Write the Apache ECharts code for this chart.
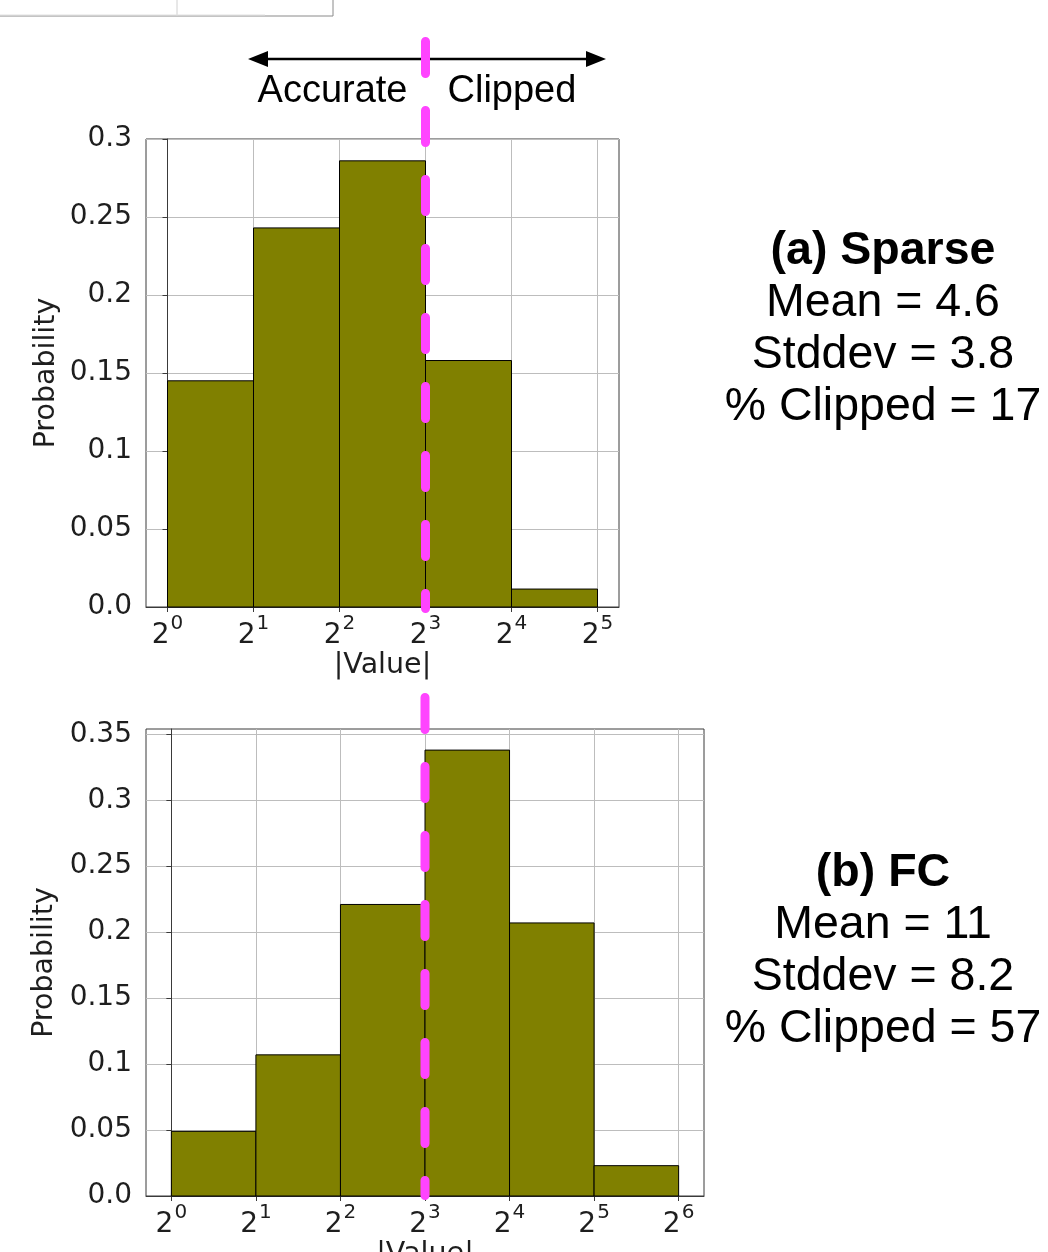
<!DOCTYPE html>
<html>
<head>
<meta charset="utf-8">
<script src="https://cdn.jsdelivr.net/npm/echarts@6/dist/echarts.min.js"></script>
<style>
  html, body { margin: 0; padding: 0; background: #ffffff; }
  #chart { width: 1048px; height: 1252px; }
</style>
</head>
<body>
<div id="chart"></div>
<script>
// ---------------- DATA ----------------
// bin edges are log2 exponents (|Value| = 2^edge)
const binEdgesA = [0, 1, 2, 3, 4, 5];
const probA = [0.145, 0.243, 0.286, 0.158, 0.0115];
const binEdgesB = [0, 1, 2, 3, 4, 5, 6];
const probB = [0.049, 0.107, 0.221, 0.338, 0.207, 0.023];

const xTickExpA = [0, 1, 2, 3, 4, 5];
const xTickExpB = [0, 1, 2, 3, 4, 5, 6];
const yTicksA = [0, 0.05, 0.1, 0.15, 0.2, 0.25, 0.3];
const yTicksB = [0, 0.05, 0.1, 0.15, 0.2, 0.25, 0.3, 0.35];

const clipExponent = 3; // clipping threshold at 2^3

const statsA = ['(a) Sparse', 'Mean = 4.6', 'Stddev = 3.8', '% Clipped = 17'];
const statsB = ['(b) FC', 'Mean = 11', 'Stddev = 8.2', '% Clipped = 57'];
const arrowLabels = ['Accurate', 'Clipped'];
const xAxisName = '|Value|';
const yAxisName = 'Probability';

// ---------------- BUILD ----------------
function binsToData(edges, probs) {
  return probs.map((p, i) => [edges[i], edges[i + 1], p]);
}

const tickFont = 'DejaVu Sans';
const labelColor = '#1e1e1e';
const spineColor = '#3a3a3a';
const gridColor = '#bdbdbd';

function yFmt(v) {
  if (Math.abs(v) < 1e-9) return '0.0';
  return String(+v.toFixed(2));
}
function xFmt(v) {
  return '{b|2}{s|' + Math.round(v) + '}';
}

function makeXAxis(gridIndex, min, max, ticks) {
  return {
    type: 'value', gridIndex, min, max,
    name: xAxisName, nameLocation: 'middle', nameGap: 43,
    nameTextStyle: { fontFamily: tickFont, fontSize: 28.5, color: labelColor },
    axisLine: { show: true, onZero: false, lineStyle: { color: spineColor, width: 1 } },
    axisTick: { show: true, length: 5, inside: false, customValues: ticks, lineStyle: { color: spineColor, width: 1 } },
    axisLabel: {
      customValues: ticks, margin: 7, formatter: xFmt,
      rich: {
        b: { fontFamily: tickFont, fontSize: 28, color: labelColor, padding: [8, 0, 0, 0] },
        s: { fontFamily: tickFont, fontSize: 20, color: labelColor, verticalAlign: 'top', padding: [0, 0, 0, 1] }
      }
    },
    splitLine: { show: true, lineStyle: { color: gridColor, width: 1 } }
  };
}
function makeYAxis(gridIndex, max, ticks) {
  return {
    type: 'value', gridIndex, min: 0, max,
    name: yAxisName, nameLocation: 'middle', nameGap: 85, nameRotate: 90,
    nameTextStyle: { fontFamily: tickFont, fontSize: 28.5, color: labelColor },
    axisLine: { show: true, lineStyle: { color: spineColor, width: 1 } },
    axisTick: { show: true, length: 5, inside: false, customValues: ticks, lineStyle: { color: spineColor, width: 1 } },
    axisLabel: { customValues: ticks, margin: 14, formatter: yFmt, fontFamily: tickFont, fontSize: 28, color: labelColor },
    splitLine: { show: true, lineStyle: { color: gridColor, width: 1 } }
  };
}

function renderBin(params, api) {
  const lo = api.value(0), hi = api.value(1), v = api.value(2);
  const tl = api.coord([lo, v]);
  const br = api.coord([hi, 0]);
  return {
    type: 'rect',
    shape: { x: tl[0], y: tl[1], width: br[0] - tl[0], height: br[1] - tl[1] },
    style: { fill: '#808000', stroke: '#000000', lineWidth: 1 }
  };
}

const chart = echarts.init(document.getElementById('chart'), null, { renderer: 'canvas' });

const option = {
  backgroundColor: '#ffffff',
  animation: false,
  grid: [
    { left: 146, top: 139, width: 473, height: 468, outerBoundsMode: 'none', containLabel: false, show: true, borderColor: spineColor, borderWidth: 1, backgroundColor: 'transparent' },
    { left: 146, top: 729, width: 558, height: 467, outerBoundsMode: 'none', containLabel: false, show: true, borderColor: spineColor, borderWidth: 1, backgroundColor: 'transparent' }
  ],
  xAxis: [
    makeXAxis(0, -0.25, 5.25, xTickExpA),
    makeXAxis(1, -0.3, 6.3, xTickExpB)
  ],
  yAxis: [
    makeYAxis(0, 0.3, yTicksA),
    makeYAxis(1, 0.354, yTicksB)
  ],
  series: [
    { type: 'custom', xAxisIndex: 0, yAxisIndex: 0, renderItem: renderBin, encode: { x: [0, 1], y: 2 }, data: binsToData(binEdgesA, probA), z: 2 },
    { type: 'custom', xAxisIndex: 1, yAxisIndex: 1, renderItem: renderBin, encode: { x: [0, 1], y: 2 }, data: binsToData(binEdgesB, probB), z: 2 }
  ]
};
chart.setOption(option);

// ---------------- ANNOTATIONS ----------------
const xClipA = chart.convertToPixel({ xAxisIndex: 0, yAxisIndex: 0 }, [clipExponent, 0])[0];
const xClipB = chart.convertToPixel({ xAxisIndex: 1, yAxisIndex: 1 }, [clipExponent, 0])[0];
const botA = chart.convertToPixel({ xAxisIndex: 0, yAxisIndex: 0 }, [0, 0])[1];
const botB = chart.convertToPixel({ xAxisIndex: 1, yAxisIndex: 1 }, [0, 0])[1];

const magenta = '#ff44ff';
const dashStyle = { stroke: magenta, lineWidth: 9, lineCap: 'round', lineDash: [32, 37] };
const arrowY = 59;
const arrowL = 248, arrowR = 606;
const headLen = 20, headHalf = 8;

const statX = 883;
function statTexts(lines, centerY) {
  const step = 52;
  const start = centerY - step * 1.5;
  return lines.map((t, i) => ({
    type: 'text', z: 50,
    style: {
      text: t, x: statX, y: start + i * step, align: 'center', verticalAlign: 'middle',
      fontFamily: 'Liberation Sans, Arial, Helvetica, sans-serif',
      fontSize: 46.5, fontWeight: i === 0 ? 'bold' : 'normal', fill: '#000000'
    }
  }));
}

const graphics = [
  // table fragment at top-left
  { type: 'line', shape: { x1: 0, y1: 16, x2: 333, y2: 16 }, style: { stroke: '#8a8a8a', lineWidth: 1 } },
  { type: 'line', shape: { x1: 333, y1: 0, x2: 333, y2: 16 }, style: { stroke: '#8a8a8a', lineWidth: 1 } },
  { type: 'line', shape: { x1: 177, y1: 0, x2: 177, y2: 16 }, style: { stroke: '#d0d0d0', lineWidth: 1 } },
  { type: 'line', shape: { x1: 0, y1: 15, x2: 265, y2: 15 }, style: { stroke: '#e0e0e0', lineWidth: 1 } },
  // double arrow
  { type: 'line', z: 40, shape: { x1: arrowL + headLen - 2, y1: arrowY, x2: arrowR - headLen + 2, y2: arrowY }, style: { stroke: '#000000', lineWidth: 2.5 } },
  { type: 'polygon', z: 40, shape: { points: [[arrowL, arrowY], [arrowL + headLen, arrowY - headHalf], [arrowL + headLen, arrowY + headHalf]] }, style: { fill: '#000000' } },
  { type: 'polygon', z: 40, shape: { points: [[arrowR, arrowY], [arrowR - headLen, arrowY - headHalf], [arrowR - headLen, arrowY + headHalf]] }, style: { fill: '#000000' } },
  // arrow labels
  { type: 'text', z: 40, style: { text: arrowLabels[0], x: xClipA - 18, y: 92, align: 'right', verticalAlign: 'middle', fontFamily: 'Liberation Sans, Arial, sans-serif', fontSize: 38, fill: '#000000' } },
  { type: 'text', z: 40, style: { text: arrowLabels[1], x: xClipA + 22, y: 92, align: 'left', verticalAlign: 'middle', fontFamily: 'Liberation Sans, Arial, sans-serif', fontSize: 38, fill: '#000000' } },
  // dashed clipping threshold lines
  { type: 'line', z: 60, shape: { x1: xClipA, y1: 41.5, x2: xClipA, y2: botA + 1.5 }, style: dashStyle },
  { type: 'line', z: 60, shape: { x1: xClipB, y1: 697.5, x2: xClipB, y2: botB - 0.5 }, style: dashStyle }
].concat(statTexts(statsA, 329)).concat(statTexts(statsB, 951));

chart.setOption({ graphic: graphics });
</script>
</body>
</html>
